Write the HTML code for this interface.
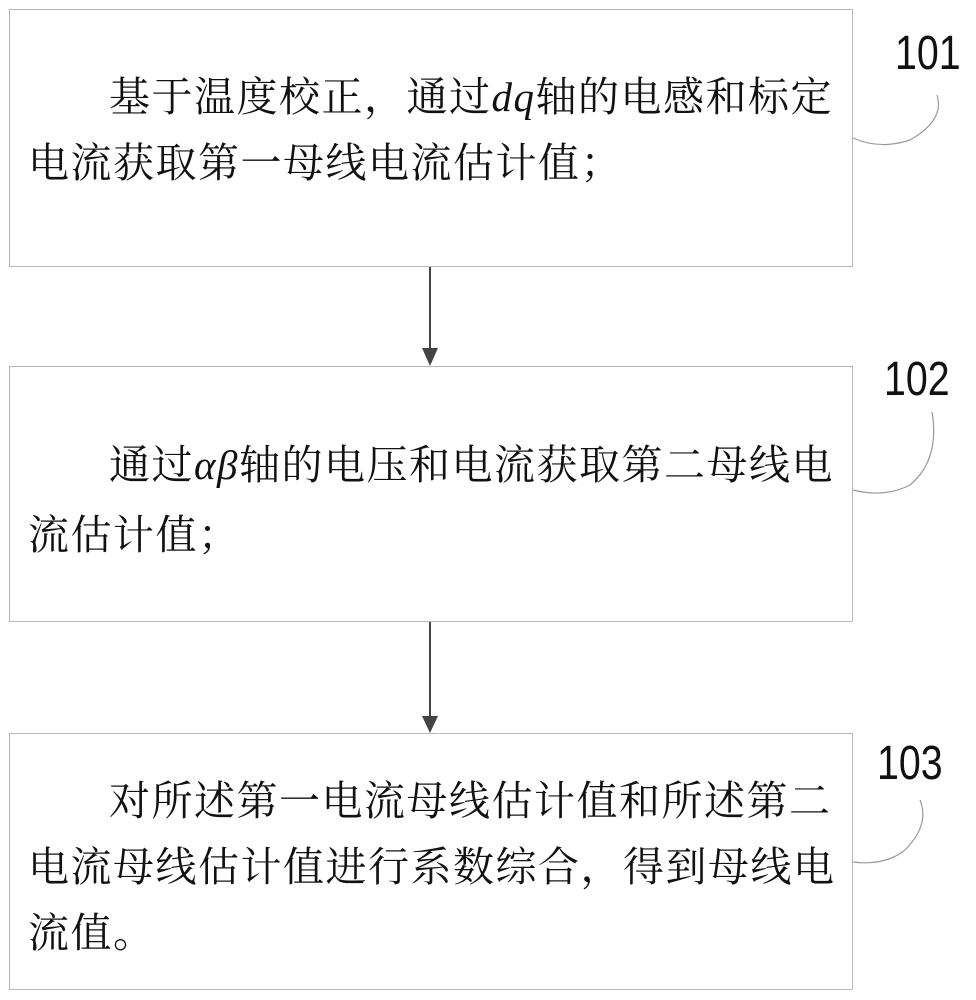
<!DOCTYPE html>
<html><head><meta charset="utf-8"><style>
body{margin:0;width:976px;height:1000px;background:#fff;position:relative;overflow:hidden}
.box{position:absolute;left:9px;width:844px;border:1.5px solid #b8b8b8;box-sizing:border-box;background:#fff}
.t{position:absolute;font-family:"Liberation Serif","Noto Serif CJK SC",serif;font-size:41px;letter-spacing:1.5px;color:#111;white-space:nowrap;line-height:1}
.n{position:absolute;font-family:"Liberation Sans",sans-serif;font-size:48px;color:#111;transform:scaleX(0.82);transform-origin:left top;line-height:1}
i{font-family:"Liberation Serif",serif;font-style:italic}
</style></head><body>
<div class="box" style="top:9px;height:258px"></div>
<div class="box" style="top:366px;height:256px"></div>
<div class="box" style="top:733px;height:257px"></div>
<svg width="976" height="1000" style="position:absolute;left:0;top:0">
<g stroke="#444" stroke-width="2" fill="none">
<line x1="430" y1="267" x2="430" y2="352"/>
<line x1="430" y1="622" x2="430" y2="720"/>
</g>
<polygon points="422,348 438,348 430,366" fill="#444"/>
<polygon points="422,716 438,716 430,733" fill="#444"/>
<g stroke="#999" stroke-width="1.2" fill="none">
<path d="M853,138 Q880,150 910,140 Q945,120 937,95"/>
<path d="M853,490 Q885,498 910,485 Q940,460 932,412"/>
<path d="M853,862 Q885,866 905,850 Q930,825 920,800"/>
</g>
</svg>
<div class="n" style="left:895px;top:30px">101</div>
<div class="n" style="left:884px;top:356px">102</div>
<div class="n" style="left:877px;top:740px">103</div>
<div class="t" style="left:109px;top:77px">基于温度校正，通过<i>dq</i>轴的电感和标定</div>
<div class="t" style="left:28px;top:143px">电流获取第一母线电流估计值；</div>
<div class="t" style="left:109px;top:445px">通过<i>αβ</i>轴的电压和电流获取第二母线电</div>
<div class="t" style="left:28px;top:515px">流估计值；</div>
<div class="t" style="left:109px;top:781px">对所述第一电流母线估计值和所述第二</div>
<div class="t" style="left:28px;top:847px">电流母线估计值进行系数综合，得到母线电</div>
<div class="t" style="left:28px;top:913px">流值。</div>
</body></html>
